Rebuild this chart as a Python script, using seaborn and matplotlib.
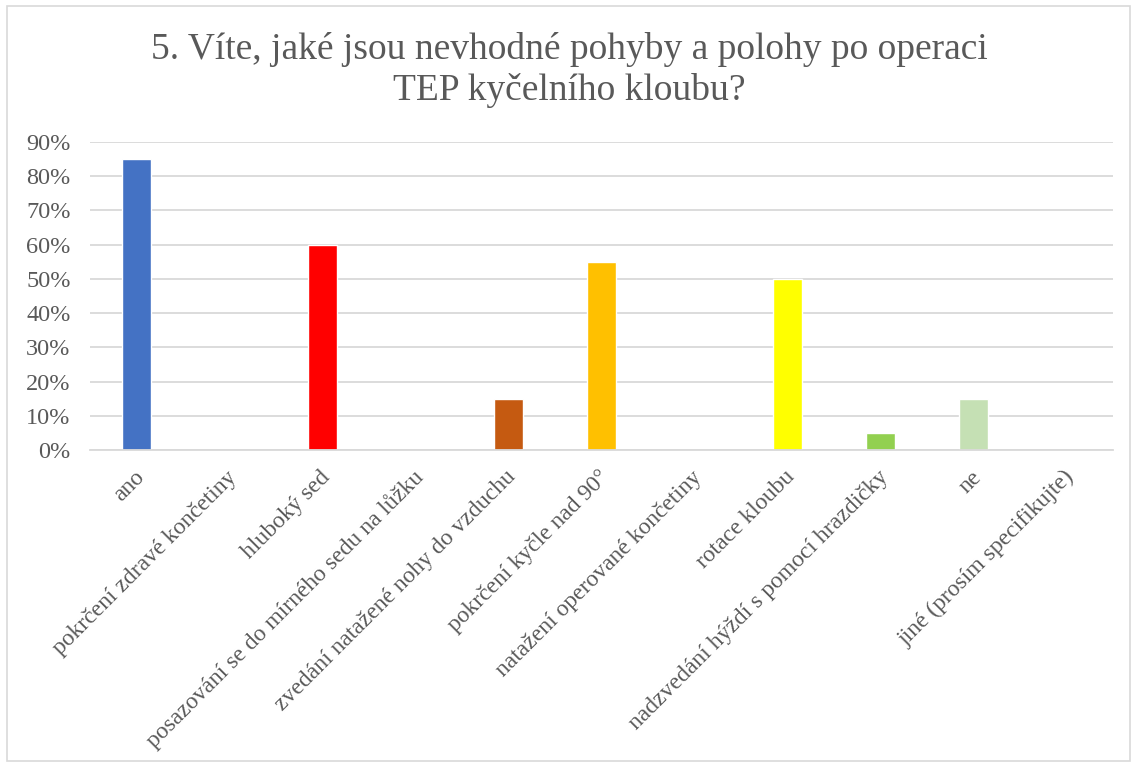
import numpy as np
import pandas as pd
import seaborn as sns
import matplotlib.pyplot as plt
import matplotlib.transforms as mtransforms
from matplotlib.patches import Rectangle
from matplotlib.ticker import PercentFormatter

categories = [
    "ano",
    "pokrčení zdravé končetiny",
    "hluboký sed",
    "posazování se do mírného sedu na lůžku",
    "zvedání natažené nohy do vzduchu",
    "pokrčení kyčle nad 90°",
    "natažení operované končetiny",
    "rotace kloubu",
    "nadzvedání hýždí s pomocí hrazdičky",
    "ne",
    "jiné (prosím specifikujte)",
]
values = [0.85, 0.0, 0.60, 0.0, 0.15, 0.55, 0.0, 0.50, 0.05, 0.15, 0.0]
colors = ["#4472C4", "#ED7D31", "#FF0000", "#A5A5A5", "#C55A11", "#FFC000",
          "#5B9BD5", "#FFFF00", "#92D050", "#C5E0B4", "#70AD47"]

df = pd.DataFrame({"kategorie": categories, "podil": values})

sns.set_theme(style="white")
plt.rcParams['font.family'] = ['Liberation Serif', 'DejaVu Serif']
text_col = "#595959"

fig = plt.figure(figsize=(11.38, 7.67), dpi=100)
ax = fig.add_axes([90 / 1138, 1 - 450 / 767, (1113 - 90) / 1138, (450 - 142) / 767])

sns.barplot(data=df, x="kategorie", y="podil", hue="kategorie", palette=colors,
            legend=False, width=0.32, saturation=1, ax=ax)

ax.set_ylim(0, 0.9)
ax.set_yticks(np.arange(0, 0.91, 0.1))
ax.yaxis.set_major_formatter(PercentFormatter(1.0, decimals=0))
ax.yaxis.grid(True, color="#D9D9D9", linewidth=1.3)
ax.set_axisbelow(True)
for s in ["top", "right", "left"]:
    ax.spines[s].set_visible(False)
ax.spines["bottom"].set_color("#D9D9D9")
ax.spines["bottom"].set_linewidth(1.3)
ax.set_xlabel("")
ax.set_ylabel("")
ax.tick_params(axis="y", labelsize=17.5, colors=text_col, length=0, pad=14)
ax.tick_params(axis="x", labelsize=17, colors=text_col, length=0, pad=12)
shift = mtransforms.ScaledTranslation(-3 / 100, 0, fig.dpi_scale_trans)
for lab in ax.get_xticklabels():
    lab.set_rotation(45)
    lab.set_ha("right")
    lab.set_rotation_mode("anchor")
    lab.set_transform(lab.get_transform() + shift)

fig.text(0.5, 1 - 70 / 767, "5. Víte, jaké jsou nevhodné pohyby a polohy po operaci\nTEP kyčelního kloubu?",
         ha="center", va="center", fontsize=27, color=text_col, linespacing=1.2)

fig.patches.append(Rectangle((7 / 1138, 6 / 767), 1123 / 1138, 755 / 767, transform=fig.transFigure,
                             fill=False, edgecolor="#D9D9D9", linewidth=1.2))

fig.savefig("out.png", dpi=100)
